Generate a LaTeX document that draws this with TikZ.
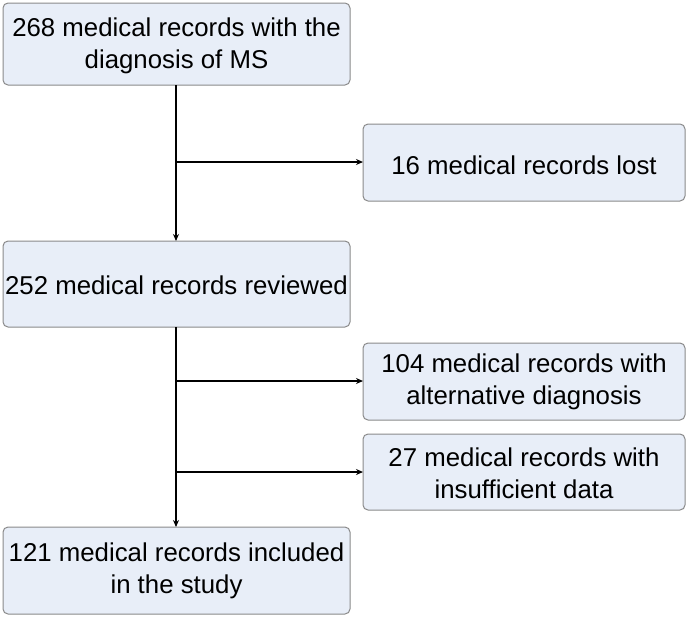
\documentclass[tikz,border=0pt]{standalone}
\usepackage{fontspec}
\setmainfont{Liberation Sans}
\usetikzlibrary{arrows.meta}
\definecolor{boxfill}{HTML}{E8EEF8}
\definecolor{boxline}{HTML}{8A8A8A}
\begin{document}
\begin{tikzpicture}[x=1pt,y=-1pt,
  box/.style={draw=boxline, line width=1pt, fill=boxfill, rounded corners=5pt},
  lbl/.style={align=center, font=\fontsize{25.8}{32}\selectfont, inner sep=0pt},
  conn/.style={line width=1.5pt, -{Stealth[length=7pt,width=6pt]}}]
\useasboundingbox (0,0) rectangle (688,619);
% boxes
\draw[box] (3,3) rectangle (350,85);
\node[lbl] (a) at (176.5,46) {268 medical records with the\\diagnosis of MS};
\coordinate (aS) at (176,85);
\draw[box] (363,124) rectangle (685,201);
\node[lbl] (b) at (524,165) {16 medical records lost};
\coordinate (bW) at (363,162);
\draw[box] (3,241) rectangle (350,327);
\node[lbl] (c) at (176.5,285) {252 medical records reviewed};
\coordinate (cN) at (176,241);
\coordinate (cS) at (176,327);
\draw[box] (363,343) rectangle (685,420);
\node[lbl] (d) at (524,382) {104 medical records with\\alternative diagnosis};
\coordinate (dW) at (363,381);
\draw[box] (363,434) rectangle (685,510);
\node[lbl] (e) at (524,473) {27 medical records with\\insufficient data};
\coordinate (eW) at (363,472);
\draw[box] (3,527) rectangle (350,614);
\node[lbl] (f) at (176.5,571) {121 medical records included\\in the study};
\coordinate (fN) at (176,527);
% connectors
\coordinate (j1) at (176,162);
\coordinate (j2) at (176,381);
\coordinate (j3) at (176,472);
\draw[conn] (aS) -- (cN);
\draw[conn] (j1) -- (bW);
\draw[conn] (cS) -- (fN);
\draw[conn] (j2) -- (dW);
\draw[conn] (j3) -- (eW);
\end{tikzpicture}
\end{document}
